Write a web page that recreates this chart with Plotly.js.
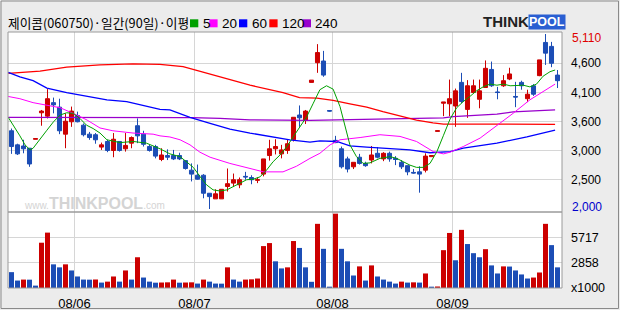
<!DOCTYPE html>
<html><head><meta charset="utf-8">
<script src="https://cdn.plot.ly/plotly-3.0.1.min.js"></script>
<style>html,body{margin:0;padding:0;background:#ececec;overflow:hidden}#chart{width:620px;height:310px}</style>
</head><body><div id="chart"></div>
<script>
// ---- data ----
const openP  = [3390,3140,3120,3080,3240,3710,3650,3890,3810,3330,3550,3660,3490,3330,3320,3100,3200,3040,3200,3070,3170,3480,3330,3110,3110,2880,2950,2950,2950,2860,2690,2600,2600,2280,2180,2180,2400,2460,2430,2580,2560,2510,2620,2950,3070,2980,3040,3230,3670,3580,4250,4600,4630,3750,3220,3070,2890,2750,2920,2810,2870,2990,2890,2990,2900,2830,2770,2650,2660,2690,2930,3380,3880,3870,3830,4250,3770,4070,3950,4160,4480,4080,4190,4310,4000,4250,3960,4190,4370,4960,4890,4380];
const highP  = [3430,3160,3230,3080,3250,3760,4130,3980,3960,3700,3820,3730,3520,3370,3350,3180,3230,3350,3200,3350,3290,3610,3390,3140,3140,3080,3060,3050,3000,2860,2810,2790,2620,2280,2350,2350,2720,2630,2560,2660,2600,2560,2890,3230,3240,3140,3240,3630,3840,3760,4290,4930,4810,3750,3300,3110,2930,2830,2980,2840,3120,3100,3010,3020,2940,2870,2770,2710,2760,2990,2950,3390,3900,4300,4140,4420,4290,4300,4300,4640,4620,4170,4380,4510,4260,4280,4120,4220,4650,5110,4970,4470];
const lowP   = [2980,2960,2990,2750,3240,3480,3610,3700,3330,3080,3460,3540,3290,3230,3160,3050,3010,2920,3020,3020,3080,3170,3110,3020,2900,2850,2870,2870,2870,2700,2490,2520,2190,2000,2180,2180,2310,2390,2370,2520,2440,2460,2580,2860,2970,2900,2980,3200,3460,3510,4250,4420,4350,3730,3170,2720,2650,2710,2790,2750,2810,2900,2850,2840,2780,2710,2600,2630,2290,2650,2930,3380,3650,3650,3460,3880,3620,4060,3790,4160,4170,3950,4170,4290,3810,4120,3900,4010,4360,4560,4520,4150];
const closeP = [3110,2980,3070,2800,3250,3740,3960,3850,3390,3560,3740,3550,3320,3270,3230,3140,3040,3240,3040,3130,3270,3300,3150,3040,2940,2960,2920,2890,2890,2720,2620,2530,2280,2220,2270,2350,2450,2520,2520,2570,2520,2520,2890,3070,3110,3050,3160,3630,3620,3740,4290,4780,4380,3740,3180,2750,2710,2830,2810,2770,2960,2920,2990,2890,2880,2750,2660,2640,2620,2940,2950,3390,3900,3960,4100,3910,4190,4190,4100,4500,4190,4070,4280,4400,3990,4190,4040,4040,4650,4770,4590,4280];
const volume = [1790,840,950,940,270,5110,6250,2670,2330,2670,1980,1300,950,940,960,610,720,1300,720,1980,950,3470,1180,720,600,620,640,950,600,620,640,500,950,720,500,490,2330,950,720,950,980,1070,4730,5070,3010,2210,2330,5300,4520,2330,700,7240,4420,150,8390,4420,3010,1410,2440,840,2550,1300,950,720,500,720,610,640,610,1640,150,170,4270,6210,3130,6560,4960,3930,3470,4380,2550,1640,2440,2420,1980,1530,1070,1180,1750,7240,4840,2330];

const monthStart  = [11, 31, 54, 74];
const monthLabels = ['08/06','08/07','08/08','08/09'];
const priceTickLabels = ['4,600','4,100','3,600','3,000','2,500'];
const volTickVals   = [2858, 5717];
const volTickLabels = ['2858','5717'];

const ma5X   = [-0.55,0.3,1.4,2.25,3.1,3.6,4.75,5.9,7,8.1,9.2,10.3,11.4,12.5,13.6,14.75,15.9,18.1,20.3,22.5,24.75,26.4,28.1,29.2,30.3,31.4,32.5,33.6,34.75,35.9,37,38.1,39.2,40.3,41.4,42.5,43.6,44.75,45.9,47,48.1,49.2,50.3,51.4,52.5,53.6,54.75,55.6,56.4,57.5,58.6,59.75,61.4,63.1,64.2,65.3,66.4,67.5,68.6,69.75,70.9,72,73.1,74.2,75.3,76.4,77.5,78.6,79.75,80.9,82,83.1,84.2,85.3,86.4,87.5,88.6,89.75,90.6];
const ma5    = [3630,3490,3300,3140,3050,3080,3230,3400,3550,3670,3710,3700,3610,3490,3430,3350,3230,3180,3200,3170,3070,2980,2930,2840,2740,2580,2430,2340,2320,2340,2400,2450,2520,2530,2570,2690,2840,2960,3110,3290,3460,3640,3880,4120,4190,4130,3820,3460,3140,2930,2810,2820,2900,2930,2900,2840,2780,2740,2740,2810,3020,3310,3600,3800,3910,4000,4100,4170,4220,4200,4220,4190,4190,4200,4170,4220,4360,4440,4470];
const ma20X  = [-0.55,1.4,3.6,5.9,8.1,10.9,12.6,14.75,16.9,20.25,23.6,24.75,26.4,28.1,29.75,31.4,33.1,36.4,39.75,42,45.25,47.5,49.75,51.4,53.1,54.75,58.1,61.4,64.75,67.5,70.3,72,73.1,75.3,78.1,80.9,83.6,86.4,88.6,90.6];
const ma20   = [4000,3960,3890,3850,3800,3670,3580,3440,3390,3350,3330,3300,3280,3230,3140,3010,2920,2810,2720,2660,2660,2760,2900,2990,3140,3230,3270,3320,3290,3200,3020,2980,3010,3110,3260,3480,3700,3940,4090,4220];
const ma60X  = [-0.55,1.4,3.6,5.9,9.2,12.5,15.9,19.2,21.4,24.75,26.4,29.75,33.1,36.4,39.75,43.1,46.4,49.75,51.4,54.2,56.4,59.2,63.1,66.4,69.75,73.1,75.3,80.9,85.9,90.6];
const ma60   = [4430,4350,4280,4150,4070,4000,3940,3910,3850,3770,3760,3630,3520,3420,3350,3290,3230,3190,3210,3200,3120,3100,3080,3050,3000,3020,3080,3170,3280,3400];
const ma120X = [-0.55,4.75,9.2,14.75,20.25,24.75,28.6,31.4,34.75,39.75,45.25,48,50.9,53.6,56.4,59.2,61.9,64.75,67.5,70.25,72,90.6];
const ma120  = [4410,4450,4520,4560,4580,4570,4530,4450,4350,4200,4070,3980,3970,3930,3870,3810,3730,3650,3580,3530,3510,3505];
const ma240X = [-0.55,24.75,30,34.75,39.75,49.75,56.4,64.75,72,73.6,80.9,83.6,87,90.6];
const ma240  = [3630,3635,3625,3610,3585,3575,3590,3610,3620,3640,3685,3725,3745,3760];

const maNames  = ['5','20','60','120','240'];
const maColors = ['#00a000','#ff00ff','#0000ff','#ff0000','#9900cc'];

// ---- geometry ----
const W = 620, H = 310, L = 8, R = 58, T = 32, B = 22;
const plotW = W - L - R, plotH = H - T - B;
const split = 76 / plotH;
const pxPerIdx = 6, firstCenterPx = 11.5;
const xr0 = -(firstCenterPx - L) / pxPerIdx;
const xr1 = xr0 + plotW / pxPerIdx;
const px2x = px => (px - L) / plotW;
const py2y = py => (H - B - py) / plotH;

const RED = '#cc0000', BLUE = '#1c4db5';
const idx = openP.map((_, i) => i);
const hiMax = Math.max(...highP), loMin = Math.min(...lowP);
const per = (hiMax - loMin) / 175;
const yr = [loMin - 3 * per, hiMax + 2 * per];
const step = (hiMax - loMin) / 6;
const priceTickVals = priceTickLabels.map((_, k) => hiMax - (k + 1) * step);
const volColors = volume.map((v, i) => (i > 0 && v > volume[i - 1]) ? RED : BLUE);

const maXs = [ma5X, ma20X, ma60X, ma120X, ma240X];
const maYs = [ma5, ma20, ma60, ma120, ma240];

const traces = [];
for (let k = maXs.length - 1; k >= 0; k--) {
  traces.push({type: 'scatter', mode: 'lines', x: maXs[k], y: maYs[k], xaxis: 'x', yaxis: 'y',
    line: {color: maColors[k], width: k < 2 ? 1 : 1.3}, hoverinfo: 'skip'});
}
traces.push({type: 'candlestick', x: idx, open: openP, high: highP, low: lowP, close: closeP,
  xaxis: 'x', yaxis: 'y', whiskerwidth: 0,
  increasing: {line: {color: RED, width: 1}, fillcolor: RED},
  decreasing: {line: {color: BLUE, width: 1}, fillcolor: BLUE}, hoverinfo: 'skip'});
traces.push({type: 'bar', x: idx, y: volume, xaxis: 'x', yaxis: 'y2',
  marker: {color: volColors, line: {width: 0}}, hoverinfo: 'skip'});

const gridC = '#d6d6d6', frameC = '#9a9a9a';
const shapes = [
  {type: 'rect', xref: 'paper', yref: 'y domain', x0: 0, x1: 1, y0: 0, y1: 1, line: {color: frameC, width: 1}},
  {type: 'rect', xref: 'paper', yref: 'y2 domain', x0: 0, x1: 1, y0: 0, y1: 1, line: {color: frameC, width: 1}},
  {type: 'rect', xref: 'paper', yref: 'paper', x0: px2x(1), x1: px2x(618.5), y0: py2y(1), y1: py2y(308.5), line: {color: '#8a8a8a', width: 1}}
];
const legendX = [190, 209.3, 239, 269.3, 302.7];
const annotations = [
  {xref: 'paper', yref: 'paper', x: px2x(6), y: py2y(22.5), xanchor: 'left', yanchor: 'middle', showarrow: false,
   text: '제이콤(060750)·일간(90일)·이평', font: {family: 'Noto Sans CJK KR', size: 12.7, color: '#000'}},
  {xref: 'paper', yref: 'y', x: 1, y: hiMax, xanchor: 'left', yanchor: 'middle', xshift: 7.5, yshift: -4, showarrow: false,
   text: hiMax.toLocaleString('en-US'), font: {family: 'Liberation Sans', size: 12, color: '#e00000'}},
  {xref: 'paper', yref: 'y', x: 1, y: loMin, xanchor: 'left', yanchor: 'middle', xshift: 7.5, yshift: 2, showarrow: false,
   text: loMin.toLocaleString('en-US'), font: {family: 'Liberation Sans', size: 12, color: '#0000cc'}},
  {xref: 'paper', yref: 'paper', x: px2x(481), y: py2y(21.7), xanchor: 'left', yanchor: 'middle', showarrow: false,
   text: '<b>THINK</b>', font: {family: 'Liberation Sans', size: 15, color: '#222'}},
  {xref: 'paper', yref: 'paper', x: px2x(528), y: py2y(21.5), xanchor: 'left', yanchor: 'middle', showarrow: false,
   text: '<b>POOL</b>', bgcolor: '#2a5fd2', borderpad: 0, font: {family: 'Liberation Sans', size: 12.5, color: '#fff'}},
  {xref: 'paper', yref: 'paper', x: px2x(22), y: py2y(203.5), xanchor: 'left', yanchor: 'middle', showarrow: false,
   text: '<span style="font-size:10px">www.</span><b>THINKPOOL</b><span style="font-size:10px">.com</span>',
   font: {family: 'Liberation Sans', size: 16, color: '#d4d4d4'}}
];
maNames.forEach((n, k) => {
  shapes.push({type: 'rect', xref: 'paper', yref: 'paper', x0: px2x(legendX[k]), x1: px2x(legendX[k] + 8.3),
    y0: py2y(27.3), y1: py2y(19.3), fillcolor: maColors[k], line: {width: 0}});
  annotations.push({xref: 'paper', yref: 'paper', x: px2x(legendX[k] + 10.5), y: py2y(23), xanchor: 'left', yanchor: 'middle',
    showarrow: false, text: n, font: {family: 'Liberation Sans Narrow, Liberation Sans', size: 13.5, color: '#000'}});
});

const layout = {
  width: W, height: H, margin: {l: L, r: R, t: T, b: B, pad: 0},
  paper_bgcolor: '#ececec', plot_bgcolor: '#ffffff', showlegend: false,
  boxgap: 0.25, boxgroupgap: 0.1, bargap: 0.17,
  xaxis: {range: [xr0, xr1], anchor: 'y2', tickmode: 'array', tickvals: monthStart.map(m => m - 0.5), ticktext: monthLabels,
    showgrid: true, gridcolor: gridC, gridwidth: 1, zeroline: false, showline: false, ticks: '',
    ticklabelstandoff: 6, tickfont: {family: 'Liberation Sans', size: 13, color: '#000'},
    rangeslider: {visible: false}, fixedrange: true},
  yaxis: {domain: [split, 1], range: yr, side: 'right', anchor: 'x', tickmode: 'array', tickvals: priceTickVals, ticktext: priceTickLabels,
    showgrid: true, gridcolor: gridC, gridwidth: 1, zeroline: false, showline: false, ticks: '', ticklabelstandoff: 8,
    tickfont: {family: 'Liberation Sans', size: 12, color: '#000'}, fixedrange: true},
  yaxis2: {domain: [0, split], range: [0, volTickVals[1] * 1.5], side: 'right', anchor: 'x', tickmode: 'array',
    tickvals: [0].concat(volTickVals), ticktext: ['x1000'].concat(volTickLabels),
    showgrid: true, gridcolor: gridC, gridwidth: 1, zeroline: false, showline: false, ticks: '', ticklabelstandoff: 8,
    tickfont: {family: 'Liberation Sans Narrow, Liberation Sans', size: 12.5, color: '#000'}, fixedrange: true},
  shapes: shapes, annotations: annotations
};
Plotly.newPlot('chart', traces, layout, {staticPlot: true, displayModeBar: false});
</script></body></html>
